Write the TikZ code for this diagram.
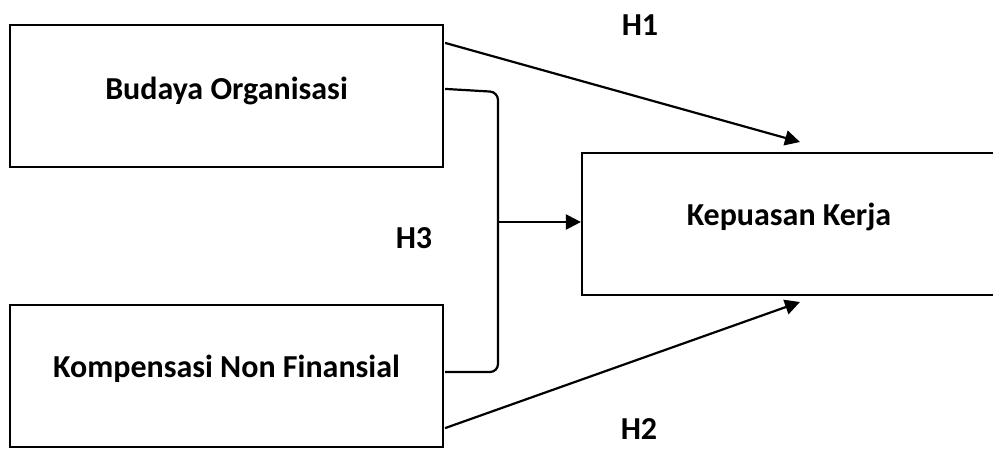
\documentclass[tikz,border=0pt]{standalone}
\usepackage{fontspec}
\setmainfont{Carlito}
\usetikzlibrary{arrows.meta,calc}
\begin{document}
\begin{tikzpicture}[x=1pt,y=-1pt,
  box/.style={draw,line width=2.2pt,minimum width=433pt,minimum height=142pt,anchor=center,inner sep=0pt,font=\bfseries\fontsize{32}{36}\selectfont,text height=20pt},
  lbl/.style={font=\bfseries\fontsize{32}{36}\selectfont,anchor=base,inner sep=0pt},
  conn/.style={line width=2.2pt},
  arr/.style={conn,-{Triangle[length=15pt,width=15pt]}}]
\useasboundingbox (0,0) rectangle (993,448);
\clip (0,0) rectangle (993,448);
\node[box,text depth=14pt] (b1) at (226.5,96) {Budaya Organisasi};
\node[box,text depth=18pt] (b3) at (226.5,376) {Kompensasi Non Finansial};
\node[box,text depth=18pt,minimum width=414pt] (k) at (789,224) {Kepuasan Kerja};
\coordinate (h1s) at ($(b1.north east)+(1,19)$);
\coordinate (h1e) at (800,142);
\coordinate (h2s) at ($(b3.south east)+(1,-20)$);
\coordinate (h2e) at (800,302);
\coordinate (bt) at ($(b1.north east)+(1,65)$);
\coordinate (bb) at ($(b3.north east)+(1,68)$);
\coordinate (bm) at (498,222);
\draw[arr] (h1s) -- (h1e);
\draw[arr] (h2s) -- (h2e);
\draw[conn,rounded corners=8pt] (bt) -- (498,92) -- (498,372) -- (bb);
\draw[arr] (bm) -- (k.west |- bm);
\node[lbl] (l1) at (640,35) {H1};
\node[lbl] (l2) at (639,439) {H2};
\node[lbl] (l3) at (414,248) {H3};
\end{tikzpicture}
\end{document}
